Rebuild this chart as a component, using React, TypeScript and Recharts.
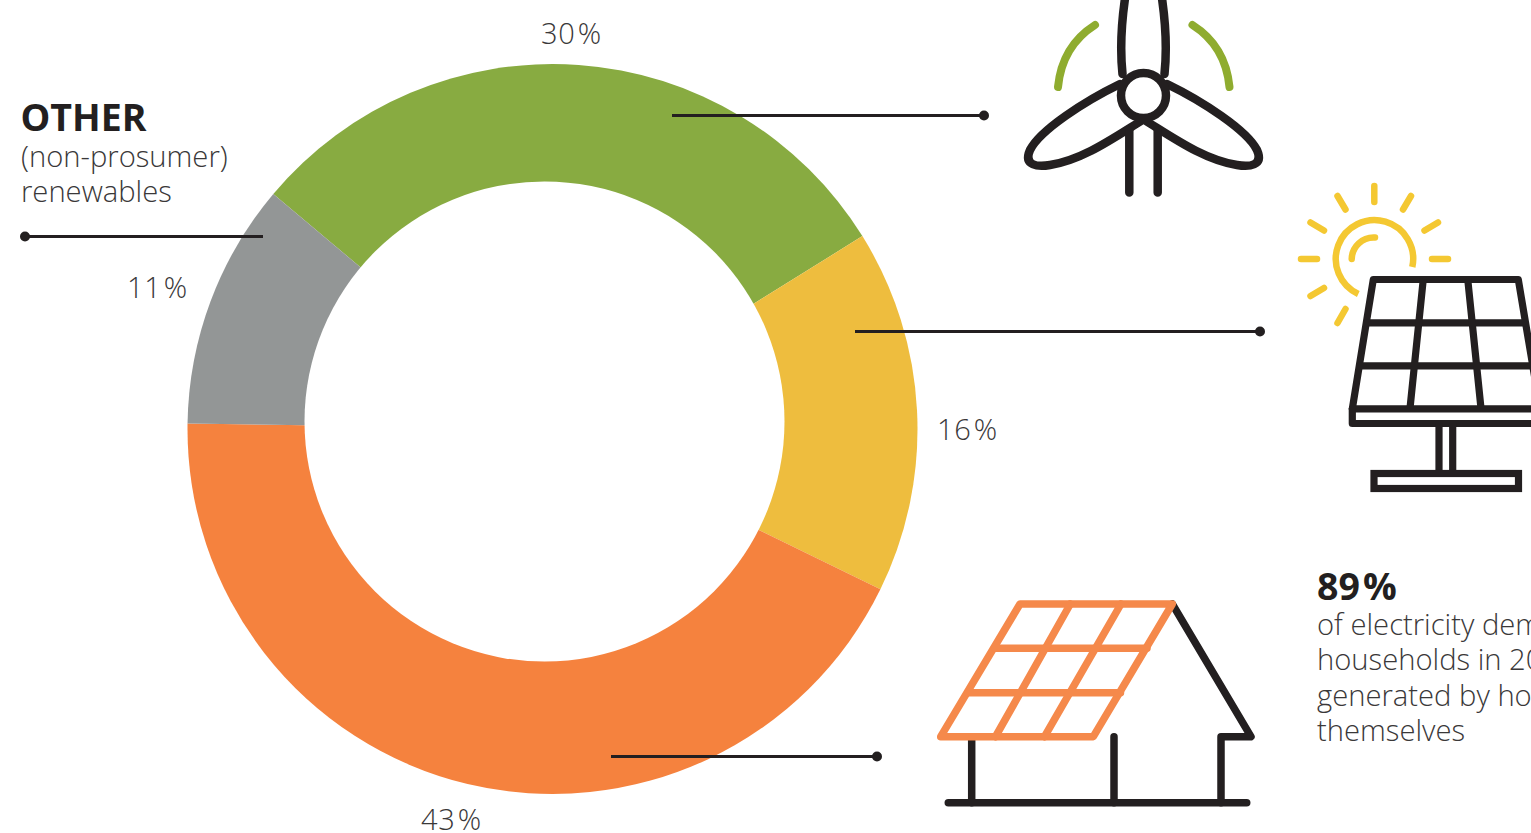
import { PieChart, Pie, Cell } from "recharts";

const sources = ["Wind", "Solar", "Prosumer solar", "Other"];
const shares = [30, 16.1, 43, 10.9];
const colors = ["#88ab41", "#eebd3e", "#f5823e", "#939696"];
const shareLabels = ["30", "16", "43", "11"];

const data = sources.map((name, i) => ({ name, value: shares[i] }));

const WIDTH = 1531;
const HEIGHT = 833;
const INK = "#231f20";
const TEXT = "#3a3839";
const FONT = "'Open Sans', sans-serif";

// leader lines: x1, x2, y, dot is at `dot`
const leaders = [
  { from: 672, dot: 984, y: 115.5 },
  { from: 855, dot: 1260, y: 331.5 },
  { from: 611, dot: 877, y: 756.5 },
  { from: 263, dot: 25, y: 236.5 },
];

const labelPos = [
  { x: 541, y: 44 },
  { x: 937, y: 440 },
  { x: 421, y: 830 },
  { x: 127, y: 298 },
];

const sunRays = [
  "M1374.3 186V202", "M1301 259H1317", "M1432 259H1448", "M1337.5 196L1345.5 209.5",
  "M1411 196L1403 209.5", "M1310.5 222.5L1324 230.5", "M1438 222.5L1424.5 230.5",
  "M1310.5 296L1324 288", "M1337.5 323L1345.5 309",
];

function Turbine() {
  const blade = "M1120 84C1085 101 1040 130 1030 150C1023 166 1038 167 1050 165C1082 160 1112 139 1141 121";
  return (
    <g fill="none" strokeLinecap="round" strokeLinejoin="round">
      <g stroke={INK} strokeWidth={8.5}>
        <path d="M1125.5 -5C1121 25 1120 50 1122.5 74" />
        <path d="M1161.5 -5C1166 25 1167 50 1164.5 74" />
        <path d={blade} />
        <path d={blade} transform="translate(2287 0) scale(-1 1)" />
        <path d="M1129.3 131V192.5M1157.7 131V192.5" />
        <circle cx={1143.5} cy={95.5} r={22.5} />
      </g>
      <g stroke="#8fac2f" strokeWidth={8}>
        <path d="M1095 25Q1062 46 1058 87" />
        <path d="M1192.5 25Q1225.5 46 1229.5 87" />
      </g>
    </g>
  );
}

function SolarPanel() {
  return (
    <g fill="none">
      <g stroke="#f4c832" strokeWidth={6.5} strokeLinecap="round">
        {sunRays.map((d) => (
          <path key={d} d={d} />
        ))}
        <path d="M1351.7 259A22 22 0 0 1 1375 237.5" />
        <path d="M1412.3 267A38.7 38.7 0 1 0 1358.3 294" strokeLinecap="butt" />
      </g>
      <g stroke={INK} strokeWidth={7.2} strokeLinejoin="round">
        <path d="M1373.3 279.5H1518.3L1540 408.8H1352.3Z" />
        <path d="M1366 322.8H1526M1358 365.8H1533" />
        <path d="M1423.3 279L1410 408.3M1467.7 279L1481 408.3" />
        <path d="M1352.3 408V423.5H1540" />
        <path d="M1439 423V471M1452.7 423V471" />
        <rect x={1374} y={473.5} width={144.5} height={15} strokeLinejoin="miter" />
      </g>
    </g>
  );
}

function RooftopHouse() {
  return (
    <g fill="none" strokeLinecap="round" strokeLinejoin="round" strokeWidth={7.5}>
      <g stroke={INK}>
        <path d="M1172.3 604L1251 736.7H1221V802.7" />
        <path d="M971.7 737V802.7M1114 736.7V802.7" />
        <path d="M948.3 802.7H1246.7" />
      </g>
      <g stroke="#f5894b">
        <path d="M1020 604H1172.3L1093.3 736.7H940.7Z" />
        <path d="M995 648.3H1147M968 692.7H1120.5" />
        <path d="M1070.3 604L995.5 736.7M1121 604L1044.5 736.7" />
      </g>
    </g>
  );
}

export default function App() {
  return (
    <div style={{ position: "fixed", left: 0, top: 0, width: WIDTH, height: HEIGHT, overflow: "hidden", background: "#fff" }}>
      <PieChart width={WIDTH} height={HEIGHT} margin={{ top: 0, right: 0, bottom: 0, left: 0 }}>
        <Pie
          data={data}
          dataKey="value"
          nameKey="name"
          cx={552.5}
          cy={429}
          innerRadius={0}
          outerRadius={365}
          startAngle={139.9}
          endAngle={-220.1}
          stroke="none"
          isAnimationActive={false}
        >
          {data.map((d, i) => (
            <Cell key={d.name} fill={colors[i]} />
          ))}
        </Pie>
      </PieChart>

      {/* the hole sits off-centre in the original, so it is a separate circle */}
      <svg width={WIDTH} height={HEIGHT} style={{ position: "absolute", left: 0, top: 0 }} fontFamily={FONT}>
        <circle cx={544.5} cy={421.5} r={240} fill="#fff" />

        {leaders.map((l) => (
          <g key={l.y}>
            <line x1={l.from} x2={l.dot} y1={l.y} y2={l.y} stroke={INK} strokeWidth={3} />
            <circle cx={l.dot} cy={l.y} r={5} fill={INK} />
          </g>
        ))}

        {shareLabels.map((t, i) => (
          <text key={t} x={labelPos[i].x} y={labelPos[i].y} fontSize={29} fontWeight={300} fill={TEXT} letterSpacing={0.8}>
            {t}
            <tspan dx={2}>%</tspan>
          </text>
        ))}

        <text x={20.5} y={131} fontSize={37.5} fontWeight={700} fill={INK}>OTHER</text>
        <text x={21} y={167} fontSize={29.2} fontWeight={300} fill={TEXT}>(non-prosumer)</text>
        <text x={21} y={202} fontSize={29.2} fontWeight={300} fill={TEXT}>renewables</text>

        <text x={1317} y={600} fontSize={37.5} fontWeight={700} fill={INK}>
          89<tspan dx={3}>%</tspan>
        </text>
        <text x={1317} y={635} fontSize={29.2} fontWeight={300} fill={TEXT}>of electricity demand</text>
        <text x={1317} y={670} fontSize={29.2} fontWeight={300} fill={TEXT}>households in 2050</text>
        <text x={1317} y={706} fontSize={29.2} fontWeight={300} fill={TEXT}>generated by households</text>
        <text x={1317} y={741} fontSize={29.2} fontWeight={300} fill={TEXT}>themselves</text>

        <Turbine />
        <SolarPanel />
        <RooftopHouse />
      </svg>
    </div>
  );
}
